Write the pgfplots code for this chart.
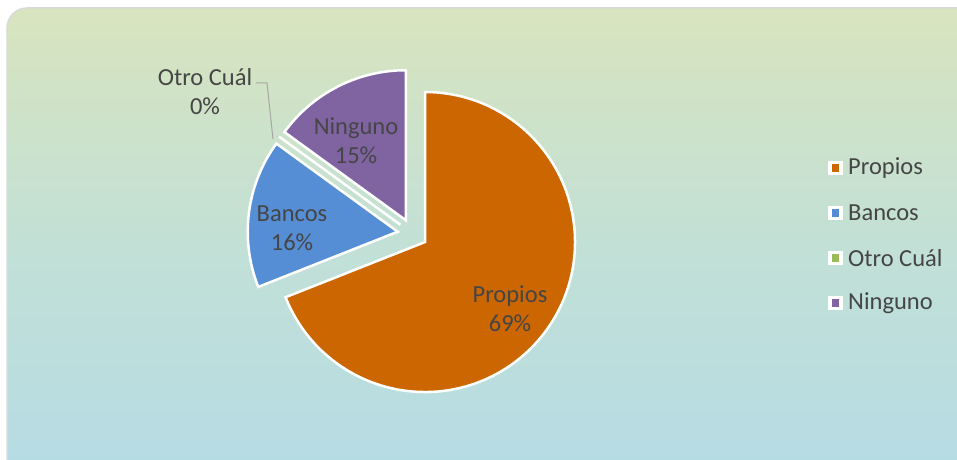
\documentclass[border=0pt]{standalone}
\usepackage{pgfplots}
\pgfplotsset{compat=1.18}
\usepackage{fontspec}
\setmainfont{Carlito}
\definecolor{cProp}{HTML}{CC6600}
\definecolor{cBanc}{HTML}{558ED5}
\definecolor{cOtro}{HTML}{9BBB59}
\definecolor{cNing}{HTML}{8064A2}
\definecolor{txt}{HTML}{454545}
\definecolor{bgtop}{HTML}{D8E4BE}
\definecolor{bgmid}{HTML}{C2E0D6}
\definecolor{bgbot}{HTML}{B5DBE5}
\begin{document}
\begin{tikzpicture}
\path[use as bounding box] (0,0) rectangle (957pt,459pt);
\begin{scope}
\clip (0,0) rectangle (957pt,459pt);
\shade[top color=bgtop, bottom color=bgbot, middle color=bgmid, draw=gray!30, line width=1.5pt, rounded corners=20pt]
  (7pt,-25pt) rectangle (990pt,451pt);
\end{scope}
\begin{axis}[
    at={(0,0)}, anchor=south west,
    x=1pt, y=1pt, scale only axis,
    xmin=0, xmax=957, ymin=0, ymax=459,
    hide axis, clip=false,
    font=\fontsize{24.5}{29}\selectfont\color{txt}
]
% pie: values in percent, drawn clockwise from 12 o'clock, each slice pulled out by 15
\pgfplotsextra{
  \xdef\angA{90}
  \foreach \v/\col in {69/cProp,16/cBanc,0/cOtro,15/cNing}{
    \pgfmathsetmacro\angB{\angA-3.6*\v}
    \pgfmathsetmacro\amid{(\angA+\angB)/2}
    \pgfmathsetmacro\cx{412.6+15*cos(\amid)}
    \pgfmathsetmacro\cy{225.4+15*sin(\amid)}
    \filldraw[fill=\col, draw=white, line width=2.5pt, line join=miter]
      (axis cs:\cx,\cy) -- ++(\angA:150pt) arc[start angle=\angA, end angle=\angB, radius=150pt] -- cycle;
    \xdef\angA{\angB}
  }
  % legend
  \foreach \col/\t [count=\i] in {cProp/Propios,cBanc/Bancos,cOtro/Otro Cuál,cNing/Ninguno}{
    \pgfmathsetmacro\ly{459-168-45*(\i-1)}
    \filldraw[fill=\col, draw=white, line width=3.5pt] (axis cs:830,\ly-5.5) rectangle (axis cs:841,\ly+5.5);
    \node[anchor=west, inner sep=0pt] at (axis cs:848,\ly) {\t};
  }
}
% data labels
\node[align=center] at (axis cs:510,150) {Propios\\69\%};
\node[align=center] at (axis cs:292,231) {Bancos\\16\%};
\node[align=center] at (axis cs:356,318) {Ninguno\\15\%};
\node[align=center] at (axis cs:205,367) {Otro Cuál\\0\%};
\draw[gray!70, line width=1pt] (axis cs:256,376) -- (axis cs:267,376) -- (axis cs:273,320);
\end{axis}
\end{tikzpicture}
\end{document}
